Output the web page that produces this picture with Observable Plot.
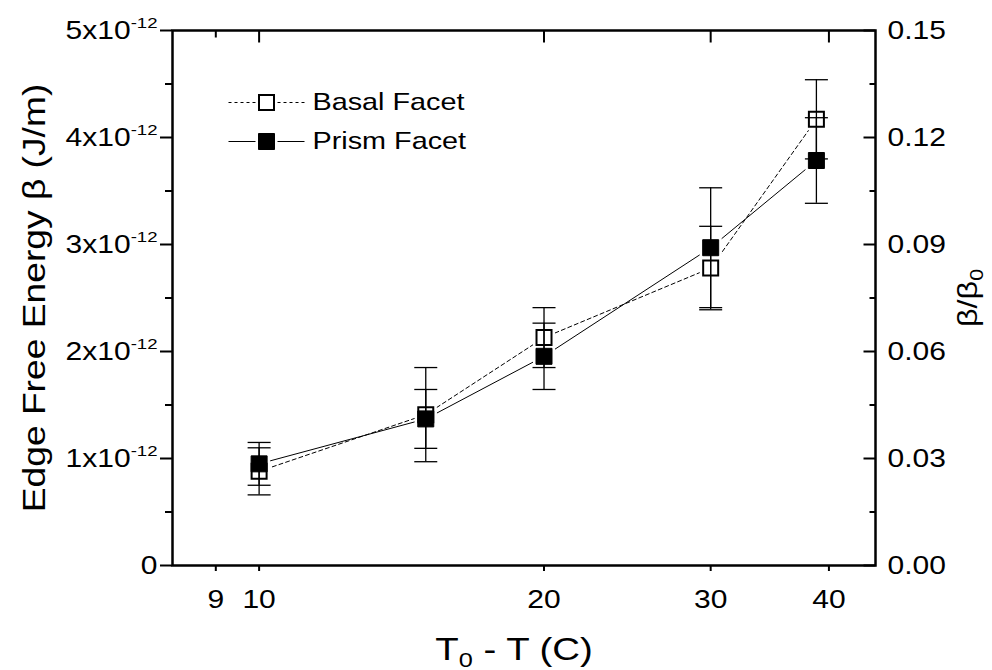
<!DOCTYPE html>
<html><head><meta charset="utf-8">
<script src="https://cdn.jsdelivr.net/npm/d3@7"></script>
<script src="https://cdn.jsdelivr.net/npm/@observablehq/plot@0.6"></script>
<style>html,body{margin:0;padding:0;background:#fff} svg{display:block}</style>
</head><body><div id="chart"></div>
<script>
// ---- data ----
const temps     = [10, 15, 20, 30, 38.8];            // T0 - T (C)
const basal     = [0.88, 1.41, 2.13, 2.78, 4.17];    // beta, x1e-12 J/m
const basalErr  = [0.22, 0.44, 0.28, 0.39, 0.37];
const prism     = [0.95, 1.37, 1.955, 2.97, 3.785];
const prismErr  = [0.20, 0.275, 0.31, 0.56, 0.40];
const seriesNames = ["Basal Facet", "Prism Facet"];
const xTicks      = [9, 10, 20, 30, 40];
const xTopMajor   = [10, 20, 30, 40];
const xTopMinor   = [9];
const yTicks      = [0, 1, 2, 3, 4, 5];
const yMinor      = [0.5, 1.5, 2.5, 3.5, 4.5];
const ratioTicks  = [0.00, 0.03, 0.06, 0.09, 0.12, 0.15];
const ratioMinor  = [0.015, 0.045, 0.075, 0.105, 0.135];
const beta0 = 100 / 3;   // beta0 in 1e-12 J/m (0.15 <-> 5e-12)

const FONT = "'Liberation Sans', Arial, sans-serif";
const STRETCH = 1.2;

const basalRows = temps.map((t, i) => ({t, v: basal[i], e: basalErr[i]}));
const prismRows = temps.map((t, i) => ({t, v: prism[i], e: prismErr[i]}));
const allRows = basalRows.concat(prismRows);

// custom symbols
const sq = h => ({draw(c) { c.rect(-h, -h, 2 * h, 2 * h); }});
const hseg = (a, b) => ({draw(c) { c.moveTo(a, 0); c.lineTo(b, 0); }});
const vseg = (a, b) => ({draw(c) { c.moveTo(0, a); c.lineTo(0, b); }});
const legendLine = {draw(c) { c.moveTo(-38, 0); c.lineTo(-11, 0); c.moveTo(11, 0); c.lineTo(38, 0); }};

const K = {stroke: "black", fill: "none"};
const TITLE = {textAnchor: "middle", lineAnchor: "middle"};

const chart = Plot.plot({
  width: 992, height: 670,
  marginLeft: 172, marginRight: 117, marginTop: 30, marginBottom: 105,
  style: {fontFamily: FONT, fontSize: "25px", background: "white", color: "black"},
  x: {type: "log", domain: [8.1, 44.8]},
  y: {domain: [0, 5]},
  marks: [
    // data lines
    Plot.line(basalRows, {x: "t", y: "v", stroke: "black", strokeWidth: 1, strokeDasharray: "4,3"}),
    Plot.line(prismRows, {x: "t", y: "v", stroke: "black", strokeWidth: 1}),
    // gap around symbols
    Plot.dot(allRows, {x: "t", y: "v", symbol: sq(11), fill: "white", stroke: "none"}),
    // error bars
    Plot.ruleX(allRows, {x: "t", y1: d => d.v - d.e, y2: d => d.v + d.e, stroke: "black", strokeWidth: 1.3}),
    Plot.dot(allRows, {x: "t", y: d => d.v - d.e, symbol: hseg(-11.5, 11.5), ...K, strokeWidth: 1.3}),
    Plot.dot(allRows, {x: "t", y: d => d.v + d.e, symbol: hseg(-11.5, 11.5), ...K, strokeWidth: 1.3}),
    // symbols
    Plot.dot(basalRows, {x: "t", y: "v", symbol: sq(7.5), fill: "none", stroke: "black", strokeWidth: 2}),
    Plot.dot(prismRows, {x: "t", y: "v", symbol: sq(8), fill: "black", stroke: "black", strokeWidth: 1}),

    // axes
    Plot.axisY(yTicks, {anchor: "left", tickSize: 12, tickPadding: 3, strokeWidth: 2,
      tickFormat: d => d === 0 ? "0" : `${d}x10^{-12}`, label: null}),
    Plot.axisY(yMinor, {anchor: "left", tickSize: 7, strokeWidth: 2, tickFormat: () => "", label: null}),
    Plot.axisY(ratioTicks.map(r => r * beta0), {anchor: "right", tickSize: 0, tickPadding: 12,
      tickFormat: d => (d / beta0).toFixed(2), label: null}),
    Plot.dot(ratioTicks.map(r => r * beta0), {y: d => d, frameAnchor: "right", symbol: hseg(-12, 0), ...K, strokeWidth: 2}),
    Plot.dot(ratioMinor.map(r => r * beta0), {y: d => d, frameAnchor: "right", symbol: hseg(-6, 0), ...K, strokeWidth: 2}),
    Plot.axisX(xTicks, {anchor: "bottom", tickSize: 6, tickPadding: 19, strokeWidth: 2,
      tickFormat: d => String(d), label: null}),
    Plot.dot(xTopMajor, {x: d => d, frameAnchor: "top", symbol: vseg(0, 12), ...K, strokeWidth: 2}),
    Plot.dot(xTopMinor, {x: d => d, frameAnchor: "top", symbol: vseg(0, 7), ...K, strokeWidth: 2}),
    Plot.frame({stroke: "black", strokeWidth: 2.5}),

    // axis titles
    Plot.text(["Edge Free Energy β (J/m)"], {text: d => d, frameAnchor: "left", dx: -137, rotate: -90, fontSize: 31, ...TITLE}),
    Plot.text(["β/β_{0}"], {text: d => d, frameAnchor: "right", dx: 93, rotate: -90, fontSize: 27, ...TITLE}),
    Plot.text(["T_{0} - T (C)"], {text: d => d, frameAnchor: "bottom", dx: -10, dy: 84, fontSize: 32, ...TITLE}),

    // legend
    Plot.dot([seriesNames[0]], {frameAnchor: "top-left", dx: 94, dy: 72, symbol: legendLine, ...K, strokeWidth: 1, strokeDasharray: "3,3"}),
    Plot.dot([seriesNames[0]], {frameAnchor: "top-left", dx: 94, dy: 72, symbol: sq(7.5), fill: "none", stroke: "black", strokeWidth: 2}),
    Plot.text([seriesNames[0]], {text: d => d, frameAnchor: "top-left", dx: 140, dy: 72, textAnchor: "start", lineAnchor: "middle", fontSize: 24}),
    Plot.dot([seriesNames[1]], {frameAnchor: "top-left", dx: 94, dy: 111, symbol: legendLine, ...K, strokeWidth: 1}),
    Plot.dot([seriesNames[1]], {frameAnchor: "top-left", dx: 94, dy: 111, symbol: sq(8), fill: "black", stroke: "black", strokeWidth: 1}),
    Plot.text([seriesNames[1]], {text: d => d, frameAnchor: "top-left", dx: 140, dy: 111, textAnchor: "start", lineAnchor: "middle", fontSize: 24})
  ]
});
document.getElementById("chart").append(chart);

// rich text: ^{...} superscript, _{...} subscript
const NS = "http://www.w3.org/2000/svg";
chart.querySelectorAll("text").forEach(t => {
  const s = t.textContent;
  if (!/[\^_]\{/.test(s)) return;
  const fs = parseFloat(getComputedStyle(t).fontSize);
  t.textContent = "";
  let shift = 0;
  const add = (str, kind) => {
    if (!str) return;
    const ts = document.createElementNS(NS, "tspan");
    ts.textContent = str;
    const target = kind === "^" ? -0.42 * fs : kind === "_" ? 0.22 * fs : 0;
    ts.setAttribute("dy", target - shift);
    shift = target;
    if (kind) ts.setAttribute("font-size", (fs * (kind === "_" ? 0.66 : 0.62)).toFixed(1));
    t.append(ts);
  };
  const re = /([\^_])\{([^}]*)\}/g;
  let last = 0, m;
  while ((m = re.exec(s))) { add(s.slice(last, m.index), null); add(m[2], m[1]); last = re.lastIndex; }
  add(s.slice(last), null);
});
// horizontally widened lettering as in the original: scale about each text's own anchor
chart.querySelectorAll("text").forEach(t => {
  const b = t.getBBox();
  if (!b.width) return;
  const a = getComputedStyle(t).textAnchor;
  const ax = a === "middle" ? b.x + b.width / 2 : a === "end" ? b.x + b.width : b.x;
  const tr = t.getAttribute("transform") || "";
  t.setAttribute("transform", `${tr} translate(${ax},0) scale(${STRETCH},1) translate(${-ax},0)`);
});
</script>
</body></html>
